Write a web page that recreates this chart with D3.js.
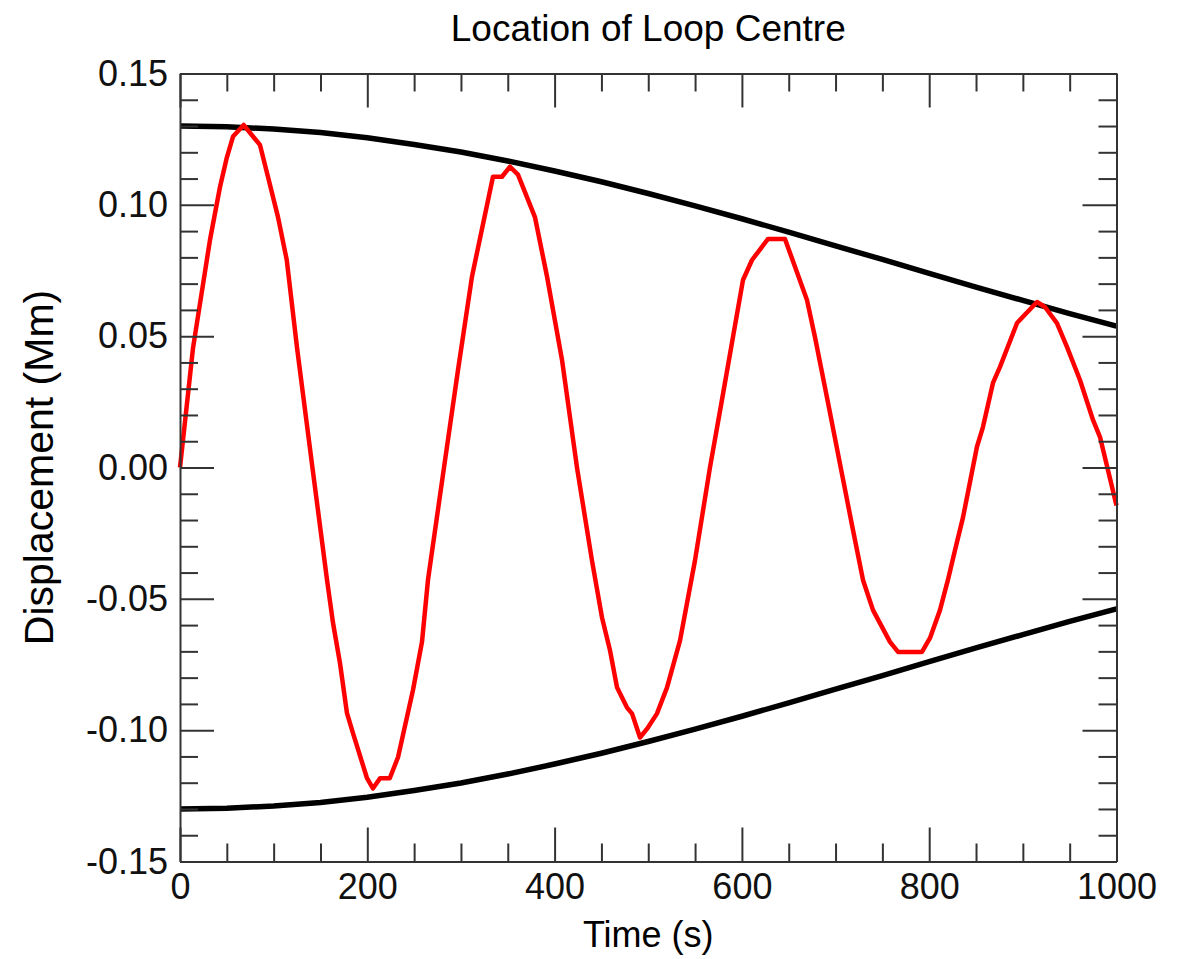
<!DOCTYPE html>
<html>
<head>
<meta charset="utf-8">
<script src="https://cdn.jsdelivr.net/npm/d3@7"></script>
<style>
  body { margin: 0; background: #fff; }
  svg { display: block; font-family: "Liberation Sans", Arial, Helvetica, sans-serif; }
  .axis path, .axis line { stroke: #333; stroke-width: 2; }
  .axis text { fill: #111; font-size: 36px; }
</style>
</head>
<body>
<div id="chart"></div>
<script>
// time samples (s) and displacement (Mm) of the loop centre
const loopTime = [0, 13.9, 32, 42.7, 50, 56.6, 68, 85.4, 94, 104.6, 114, 125, 141.4,
  157, 163.4, 170.8, 178.3, 184.7, 199.7, 206, 213.6, 224, 232.8, 248.8, 258.4, 264.8,
  281.9, 296.8, 311.8, 334.2, 343.8, 352.4, 360.9, 379.1, 391.9, 407.9, 423.9,
  439.9, 450.6, 459.2, 466.7, 477.3, 482.7, 491.2, 499.7, 509.3, 520, 533.9, 549.9,
  565.9, 578.7, 590.5, 601.2, 610.8, 627.9, 646, 669.5, 678, 692, 704.8, 717.6,
  729.3, 740, 758.1, 766.7, 792.3, 800.9, 811.5, 820, 827.6, 836.1, 851, 857.4,
  868.1, 875.6, 893.8, 915.1, 923.6, 936.4, 947.1, 961, 974.9, 982.4, 1000];
const loopDisp = [0, 0.0455, 0.0866, 0.1068, 0.118, 0.126, 0.1304, 0.1228, 0.1106, 0.0954, 0.079, 0.0455, 0,
  -0.0428, -0.0592, -0.0744, -0.0935, -0.1011, -0.1183, -0.1222, -0.1183, -0.1183, -0.1103, -0.0847, -0.0664, -0.0428,
  0, 0.037, 0.0727, 0.1107, 0.1107, 0.1145, 0.1115, 0.0952, 0.0727, 0.041, 0,
  -0.0354, -0.0571, -0.0697, -0.0838, -0.0914, -0.0937, -0.1028, -0.099, -0.0937, -0.0838, -0.0659, -0.0354,
  0, 0.0257, 0.0497, 0.0714, 0.079, 0.087, 0.087, 0.0638, 0.0497, 0.0246, 0.0013, -0.022,
  -0.0428, -0.0543, -0.0664, -0.0702, -0.0702, -0.0649, -0.0543, -0.0428, -0.0314, -0.019, 0.0079, 0.0154,
  0.0322, 0.0383, 0.055, 0.063, 0.0611, 0.055, 0.0459, 0.0333, 0.0181, 0.0116, -0.0145];

// damping envelope
const envTime = [0, 50, 100, 150, 200, 250, 300, 350, 400, 450, 500,
  550, 600, 650, 700, 750, 800, 850, 900, 950, 1000];
const envUpper = [0.130, 0.1297, 0.1289, 0.1275, 0.1255, 0.123, 0.1201, 0.1167, 0.1129, 0.1088, 0.1043,
  0.0996, 0.0947, 0.0896, 0.0844, 0.0792, 0.0739, 0.0687, 0.0636, 0.0586, 0.0538];
const envLower = [-0.130, -0.1297, -0.1289, -0.1275, -0.1255, -0.123, -0.1201, -0.1167, -0.1129, -0.1088, -0.1043,
  -0.0996, -0.0947, -0.0896, -0.0844, -0.0792, -0.0739, -0.0687, -0.0636, -0.0586, -0.0538];

const xMajor = [0, 200, 400, 600, 800, 1000];
const xMinor = [50, 100, 150, 250, 300, 350, 450, 500, 550, 650, 700, 750, 850, 900, 950];
const yMajor = [-0.15, -0.10, -0.05, 0.00, 0.05, 0.10, 0.15];
const yMinor = d3.range(-15, 16).filter(i => i % 5 !== 0).map(i => i / 100);

const config = {
  width: 1189, height: 959,
  margin: {top: 73.5, right: 72.5, bottom: 97.5, left: 180},
  majorLen: 34, minorLen: 18
};
const w = config.width - config.margin.left - config.margin.right;
const h = config.height - config.margin.top - config.margin.bottom;

const svg = d3.select('#chart').append('svg')
    .attr('width', config.width)
    .attr('height', config.height);

const chart = svg.append('g')
    .attr('transform', `translate(${config.margin.left},${config.margin.top})`);

const x = d3.scaleLinear().domain([0, 1000]).range([0, w]);
const y = d3.scaleLinear().domain([-0.15, 0.15]).range([h, 0]);

// curves
const line = d3.line().x(d => x(d[0])).y(d => y(d[1]));

chart.append('path')
    .datum(envTime.map((t, i) => [t, envUpper[i]]))
    .attr('fill', 'none').attr('stroke', '#000').attr('stroke-width', 5.5)
    .attr('d', line);
chart.append('path')
    .datum(envTime.map((t, i) => [t, envLower[i]]))
    .attr('fill', 'none').attr('stroke', '#000').attr('stroke-width', 5.5)
    .attr('d', line);
chart.append('path')
    .datum(loopTime.map((t, i) => [t, loopDisp[i]]))
    .attr('fill', 'none').attr('stroke', '#ff0000').attr('stroke-width', 4.5)
    .attr('stroke-linejoin', 'round')
    .attr('d', line);

// axes: inward ticks on all four sides
function addAxis(axisFn, scale, major, minor, transform, labels, fmt) {
  const gMinor = chart.append('g').attr('class', 'axis').attr('transform', transform)
      .call(axisFn(scale).tickValues(minor).tickSize(-config.minorLen).tickFormat(''));
  gMinor.select('.domain').remove();
  const g = chart.append('g').attr('class', 'axis').attr('transform', transform)
      .call(axisFn(scale).tickValues(major).tickSizeInner(-config.majorLen).tickSizeOuter(0)
        .tickPadding(12).tickFormat(labels ? fmt : ''));
  return g;
}

// plain hyphen for negatives, like the original
const yFmt = d => d3.format('.2f')(d).replace('\u2212', '-');

addAxis(d3.axisBottom, x, xMajor, xMinor, `translate(0,${h})`, true, d3.format('d'));
addAxis(d3.axisTop, x, xMajor, xMinor, 'translate(0,0)', false);
addAxis(d3.axisLeft, y, yMajor, yMinor, 'translate(0,0)', true, yFmt);
addAxis(d3.axisRight, y, yMajor, yMinor, `translate(${w},0)`, false);

// titles
svg.append('text')
    .attr('x', config.margin.left + w / 2)
    .attr('y', 41)
    .attr('text-anchor', 'middle')
    .style('font-size', '37px')
    .text('Location of Loop Centre');

svg.append('text')
    .attr('x', config.margin.left + w / 2)
    .attr('y', 947)
    .attr('text-anchor', 'middle')
    .style('font-size', '36px')
    .text('Time (s)');

svg.append('text')
    .attr('transform', `translate(53,${config.margin.top + h / 2}) rotate(-90)`)
    .attr('text-anchor', 'middle')
    .style('font-size', '41px')
    .text('Displacement (Mm)');
</script>
</body>
</html>
